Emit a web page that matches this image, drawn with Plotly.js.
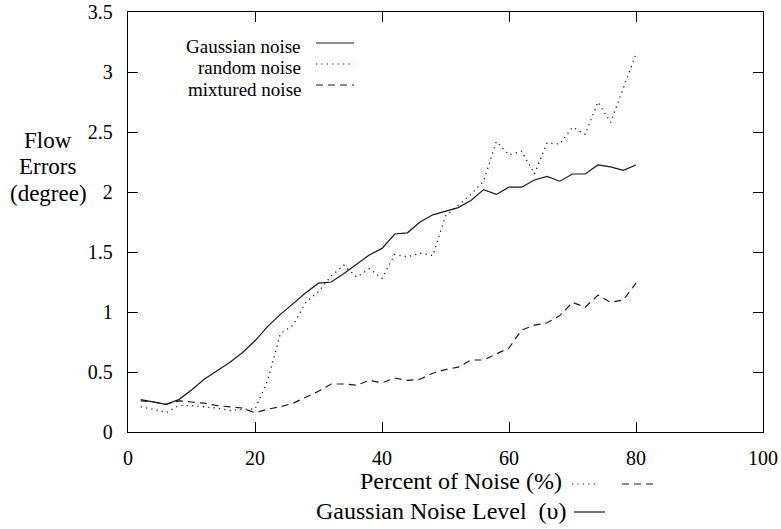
<!DOCTYPE html>
<html>
<head>
<meta charset="utf-8">
<script src="https://cdn.plot.ly/plotly-3.0.1.min.js"></script>
<style>
  html, body { margin: 0; padding: 0; background: #fff; }
  #chart { width: 781px; height: 529px; }
</style>
</head>
<body>
<div id="chart"></div>
<script>
// Percent of noise added to the image sequence
var noisePct = [2, 4, 6, 8, 10, 12, 14, 16, 18, 20,
                22, 24, 26, 28, 30, 32, 34, 36, 38, 40,
                42, 44, 46, 48, 50, 52, 54, 56, 58, 60,
                62, 64, 66, 68, 70, 72, 74, 76, 78, 80];

// Flow errors (degree) per noise type
var gaussianErr = [0.27, 0.25, 0.23, 0.27, 0.35, 0.44, 0.51, 0.58, 0.66, 0.76,
                   0.88, 0.98, 1.07, 1.16, 1.24, 1.25, 1.32, 1.40, 1.475, 1.53,
                   1.65, 1.66, 1.75, 1.81, 1.84, 1.87, 1.93, 2.02, 1.98, 2.04,
                   2.04, 2.10, 2.13, 2.09, 2.15, 2.15, 2.225, 2.21, 2.18, 2.225];

var randomErr = [0.21, 0.19, 0.16, 0.22, 0.22, 0.21, 0.20, 0.18, 0.19, 0.19,
                 0.43, 0.82, 0.89, 1.08, 1.17, 1.30, 1.39, 1.29, 1.36, 1.28,
                 1.48, 1.46, 1.49, 1.47, 1.80, 1.89, 1.98, 2.09, 2.42, 2.31,
                 2.34, 2.15, 2.41, 2.40, 2.54, 2.48, 2.75, 2.58, 2.86, 3.15];

var mixedErr = [0.26, 0.25, 0.23, 0.26, 0.25, 0.24, 0.22, 0.21, 0.20, 0.16,
                0.19, 0.21, 0.24, 0.29, 0.34, 0.40, 0.40, 0.39, 0.43, 0.41,
                0.45, 0.43, 0.44, 0.49, 0.52, 0.54, 0.60, 0.60, 0.65, 0.70,
                0.85, 0.89, 0.91, 0.97, 1.08, 1.04, 1.14, 1.08, 1.10, 1.24];

var seriesNames = ['Gaussian noise', 'random noise', 'mixtured noise'];
var yCaption = ['Flow', 'Errors', '(degree)'];
var xCaption = ['Percent of Noise (%)', 'Gaussian Noise Level\u00a0\u00a0(\u03c5)'];
var xTicks = [0, 20, 40, 60, 80, 100];
var yTicks = [0, 0.5, 1, 1.5, 2, 2.5, 3, 3.5];

var FONT = 'Liberation Serif';
var INK = '#1a1a1a';
var DOTTED = '1.2px,4.2px';
var DASHED = '7px,5px';

var traces = [
  { x: noisePct, y: gaussianErr, name: seriesNames[0], mode: 'lines',
    line: { color: INK, width: 1.2 } },
  { x: noisePct, y: randomErr, name: seriesNames[1], mode: 'lines',
    line: { color: INK, width: 1.3, dash: DOTTED } },
  { x: noisePct, y: mixedErr, name: seriesNames[2], mode: 'lines',
    line: { color: INK, width: 1.2, dash: DASHED } }
];

// Plot area geometry (pixels) used to place the legend and caption keys
var L = 128, R = 18, T = 12, B = 97, W = 781, H = 529;
var pw = W - L - R, ph = H - T - B;
function px(x) { return (x - L) / pw; }
function py(y) { return (H - B - y) / ph; }

function keyLine(x0, x1, y, dash) {
  return { type: 'line', xref: 'paper', yref: 'paper',
           x0: px(x0), x1: px(x1), y0: py(y), y1: py(y),
           line: { color: INK, width: 1.2, dash: dash } };
}
function label(text, x, y, anchor, size) {
  return { text: text, xref: 'paper', yref: 'paper',
    x: px(x), y: py(y), xanchor: anchor, yanchor: 'middle',
    showarrow: false, font: { family: FONT, size: size, color: '#000' } };
}

var annotations = [];
var shapes = [];

// Legend: text on the left, line key on the right
var legendRows = [46, 68, 89];
var legendKeyY = [43, 64, 85];
var dashes = ['solid', DOTTED, DASHED];
for (var i = 0; i < seriesNames.length; i++) {
  annotations.push(label(seriesNames[i], 303, legendRows[i], 'right', 19));
  shapes.push(keyLine(316, 354, legendKeyY[i], dashes[i]));
}

// Vertical-axis caption, one line per word
var yCapRows = [140, 166, 193];
for (var j = 0; j < yCaption.length; j++) {
  annotations.push(label(yCaption[j], 48, yCapRows[j], 'center', 23));
}

// Two-line horizontal caption with line-style keys
annotations.push(label(xCaption[0], 564, 481, 'right', 24));
annotations.push(label(xCaption[1], 568, 511, 'right', 24));
shapes.push(keyLine(572, 599, 484, DOTTED));
shapes.push(keyLine(622, 656, 484, DASHED));
shapes.push(keyLine(574, 605, 512, 'solid'));

var axisCommon = {
  showline: true, linecolor: '#000', linewidth: 1.2,
  mirror: 'ticks', ticks: 'inside', ticklen: 10, tickwidth: 1, tickcolor: '#000',
  showgrid: false, zeroline: false,
  tickfont: { family: FONT, size: 20, color: '#000' }
};

var layout = {
  width: W, height: H,
  margin: { l: L, r: R, t: T, b: B, pad: 0 },
  paper_bgcolor: '#fff', plot_bgcolor: '#fff',
  showlegend: false,
  font: { family: FONT, color: '#000' },
  xaxis: Object.assign({}, axisCommon, {
    range: [0, 100], tickvals: xTicks, ticklabelstandoff: 8
  }),
  yaxis: Object.assign({}, axisCommon, {
    range: [0, 3.5], tickvals: yTicks, ticklabelstandoff: 10
  }),
  annotations: annotations,
  shapes: shapes
};

Plotly.newPlot('chart', traces, layout, { staticPlot: true, displayModeBar: false });
</script>
</body>
</html>
